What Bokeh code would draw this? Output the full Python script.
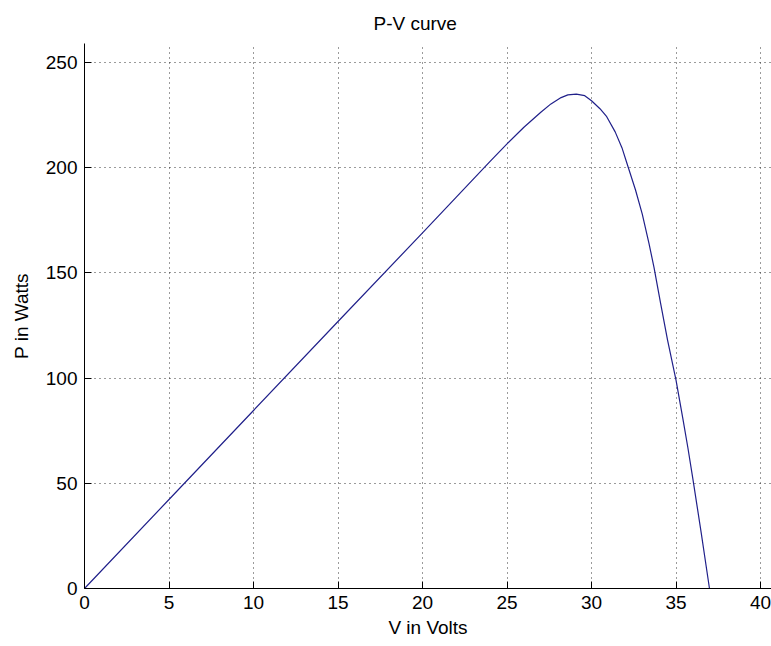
from bokeh.plotting import figure
from bokeh.models import FixedTicker, Range1d
from bokeh.embed import file_html
from bokeh.resources import INLINE

# Data (V in volts, P in watts)
voltage = [0, 5, 10, 15, 20, 22, 24, 25, 26, 27, 27.6, 28.2, 28.6, 29.1, 29.6,
           30.0, 30.5, 30.9, 31.4, 31.8, 32.1, 32.6, 33.0, 33.4, 33.7, 34.1,
           34.5, 35.0, 35.4, 35.7, 36.0, 36.5, 36.98]
power = [0, 42.3, 84.6, 126.9, 169, 186, 203, 211.3, 219.2, 226.3, 230.3, 233.3,
         234.6, 234.9, 234.2, 231.8, 228.0, 224.2, 217, 209.5, 202, 189.5, 178,
         164, 152.5, 135, 118, 99, 81, 67, 52, 26, 0]
x_ticks = [0, 5, 10, 15, 20, 25, 30, 35, 40]
y_ticks = [0, 50, 100, 150, 200, 250]

FONT = "Liberation Sans"
FS = "19px"

p = figure(width=771, height=646, output_backend="svg", toolbar_location=None,
           x_range=Range1d(0, 40.65), y_range=Range1d(0, 259),
           min_border_left=84, min_border_right=0, min_border_top=43,
           min_border_bottom=58)

p.line(voltage, power, line_color="#20208a", line_width=1.2)

p.title.text = "P-V curve"
p.title.align = "left"
p.title.offset = 289
p.title.text_font = FONT
p.title.text_font_size = FS
p.title.text_font_style = "normal"
p.title.text_color = "black"
p.title.standoff = 19

p.outline_line_color = None
p.background_fill_color = "white"
p.border_fill_color = "white"

for ax, lab in ((p.xaxis[0], "V in Volts"), (p.yaxis[0], "P in Watts")):
    ax.axis_label = lab
    ax.axis_label_text_font = FONT
    ax.axis_label_text_font_size = FS
    ax.axis_label_text_font_style = "normal"
    ax.axis_label_text_color = "black"
    ax.major_label_text_font = FONT
    ax.major_label_text_font_size = FS
    ax.major_label_text_color = "black"
    ax.axis_line_color = "black"
    ax.major_tick_line_color = "black"
    ax.major_tick_in = 7
    ax.major_tick_out = 0
    ax.minor_tick_line_color = None
    ax.major_label_standoff = 7

p.xaxis[0].ticker = FixedTicker(ticks=x_ticks)
p.yaxis[0].ticker = FixedTicker(ticks=y_ticks)
p.xaxis[0].axis_label_standoff = 5
p.yaxis[0].axis_label_standoff = 11

for g in (p.xgrid[0], p.ygrid[0]):
    g.grid_line_color = "#222222"
    g.grid_line_dash = "1 4"
    g.grid_line_width = 1
    g.grid_line_alpha = 0.9

open("out.html", "w").write(file_html(p, INLINE))
